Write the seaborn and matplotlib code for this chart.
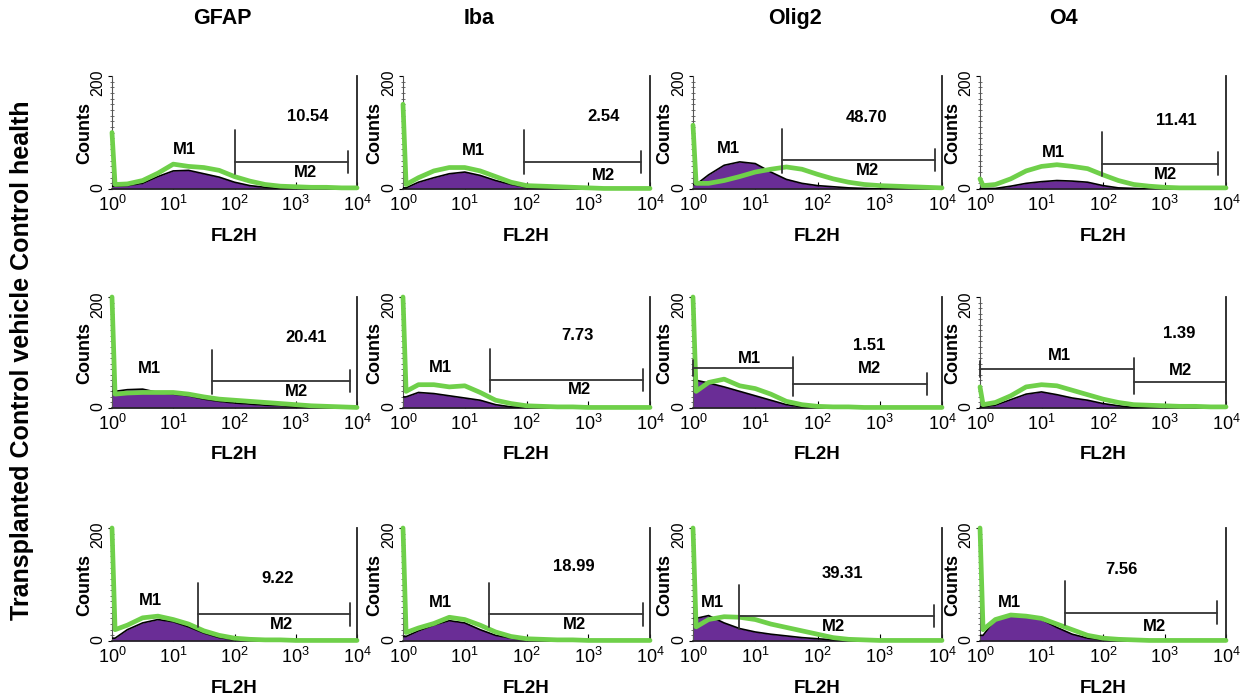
import numpy as np
import matplotlib
matplotlib.use("Agg")
import matplotlib.pyplot as plt
from matplotlib.ticker import LogLocator, NullFormatter, MultipleLocator
import seaborn as sns

# panel layout: rows are groups, columns are markers
markers = ["GFAP", "Iba", "Olig2", "O4"]
row_label = "Transplanted Control vehicle Control health"

fl2h_log = [0, 0.05, 0.25, 0.5, 0.75, 1.0, 1.25, 1.5, 1.75, 2.0,
            2.25, 2.5, 2.75, 3.0, 3.25, 3.5, 3.75, 4.0]

# purple filled histograms (control), one list per marker
iso_health = [
    [5, 5, 6, 10, 22, 32, 33, 27, 21, 12, 6, 3, 1, 1, 0, 0, 0, 0],
    [2, 2, 12, 20, 27, 30, 24, 15, 8, 3, 2, 1, 1, 0, 0, 0, 0, 0],
    [8, 8, 25, 42, 48, 45, 30, 17, 10, 6, 4, 2, 1, 0, 0, 0, 0, 0],
    [1, 1, 1, 5, 10, 13, 15, 14, 12, 6, 2, 1, 0, 0, 0, 0, 0, 0],
]
iso_vehicle = [
    [30, 30, 33, 34, 28, 25, 22, 16, 12, 9, 7, 5, 4, 2, 1, 0, 0, 0],
    [20, 20, 28, 26, 22, 18, 14, 6, 2, 1, 0, 0, 0, 0, 0, 0, 0, 0],
    [50, 50, 45, 38, 30, 22, 14, 6, 2, 1, 0, 0, 0, 0, 0, 0, 0, 0],
    [2, 2, 5, 15, 25, 29, 24, 18, 14, 8, 4, 1, 0, 0, 0, 0, 0, 0],
]
iso_transplanted = [
    [5, 5, 20, 32, 38, 34, 25, 14, 6, 2, 0, 0, 0, 0, 0, 0, 0, 0],
    [8, 8, 18, 28, 36, 32, 20, 10, 5, 2, 1, 0, 0, 0, 0, 0, 0, 0],
    [40, 40, 45, 32, 22, 16, 12, 9, 6, 4, 2, 1, 0, 0, 0, 0, 0, 0],
    [10, 10, 38, 46, 44, 38, 24, 12, 5, 2, 1, 0, 0, 0, 0, 0, 0, 0],
]

# green outlined histograms (stained)
stain_health = [
    [100, 8, 9, 15, 28, 44, 40, 38, 33, 22, 14, 8, 5, 4, 3, 3, 2, 2],
    [150, 8, 20, 32, 38, 38, 32, 22, 12, 6, 5, 4, 3, 2, 1, 1, 1, 1],
    [113, 10, 10, 15, 22, 30, 35, 39, 35, 26, 18, 12, 8, 6, 5, 4, 3, 2],
    [18, 6, 8, 18, 32, 40, 43, 40, 36, 25, 15, 8, 5, 3, 2, 2, 2, 2],
]
stain_vehicle = [
    [200, 25, 27, 28, 28, 28, 25, 20, 16, 14, 12, 10, 8, 6, 4, 3, 2, 1],
    [200, 30, 42, 42, 38, 40, 28, 14, 8, 4, 3, 2, 2, 1, 1, 1, 1, 1],
    [200, 30, 46, 52, 40, 35, 25, 12, 6, 3, 2, 2, 1, 1, 1, 1, 1, 1],
    [38, 6, 10, 22, 38, 42, 40, 32, 24, 16, 10, 6, 5, 4, 3, 3, 2, 2],
]
stain_transplanted = [
    [200, 20, 28, 41, 44, 38, 30, 18, 10, 5, 3, 2, 2, 1, 1, 1, 1, 1],
    [200, 15, 23, 31, 42, 38, 28, 16, 8, 4, 3, 2, 2, 1, 1, 1, 1, 1],
    [200, 25, 38, 43, 42, 38, 30, 24, 18, 12, 6, 3, 2, 1, 1, 1, 1, 1],
    [200, 20, 38, 46, 44, 40, 30, 20, 10, 5, 3, 2, 1, 1, 1, 1, 1, 1],
]

# M2 percentages
pct_health = ["10.54", "2.54", "48.70", "11.41"]
pct_vehicle = ["20.41", "7.73", "1.51", "1.39"]
pct_transplanted = ["9.22", "18.99", "39.31", "7.56"]

# M2 gate: start, end (log10 FL2H), bar height (counts)
m2_health = [(2.0, 3.85, 48), (1.96, 3.86, 48), (1.43, 3.88, 51), (1.99, 3.87, 45)]
m2_vehicle = [(1.63, 3.88, 48), (1.41, 3.88, 51), (1.61, 3.76, 43), (2.5, 4.0, 47)]
m2_transplanted = [(1.4, 3.89, 47), (1.4, 3.88, 47), (0.74, 3.87, 44), (1.39, 3.86, 50)]
# M1 bar height where the M1 gate is drawn (None = label only)
m1_bar_vehicle = [None, None, 72, 70]

# label positions (log10 FL2H, counts)
pct_pos = [[(3.19, 129), (3.24, 128), (2.78, 127), (3.2, 122)],
           [(3.17, 127), (2.83, 130), (2.83, 112), (3.24, 135)],
           [(2.71, 111), (2.77, 131), (2.4, 120), (2.3, 126)]]
m1_pos = [[(1.19, 70), (1.14, 69), (0.57, 72), (1.19, 65)],
          [(0.61, 72), (0.6, 73), (0.91, 90), (1.29, 94)],
          [(0.63, 72), (0.61, 69), (0.31, 68), (0.48, 68)]]
m2_pos = [[(3.16, 29), (3.24, 24), (2.81, 32), (3.01, 26)],
          [(3.01, 30), (2.85, 33), (2.83, 71), (3.26, 68)],
          [(2.77, 29), (2.77, 29), (2.25, 26), (2.83, 26)]]

iso_rows = [iso_health, iso_vehicle, iso_transplanted]
stain_rows = [stain_health, stain_vehicle, stain_transplanted]
pct_rows = [pct_health, pct_vehicle, pct_transplanted]
m2_rows = [m2_health, m2_vehicle, m2_transplanted]
m1_bar_rows = [[None] * 4, m1_bar_vehicle, [None] * 4]

sns.set_style("ticks")
plt.rcParams["font.family"] = ["Liberation Sans", "DejaVu Sans"]
plt.rcParams["mathtext.default"] = "regular"
plt.rcParams["text.color"] = "black"
plt.rcParams["axes.labelcolor"] = "black"
plt.rcParams["xtick.color"] = "black"
plt.rcParams["ytick.color"] = "black"

purple = "#6a2d96"
green = "#6fd04a"
gate_col = "#333333"

W, H = 1244, 699
fig = plt.figure(figsize=(W / 100, H / 100), dpi=100)

col_left = [112, 403, 693, 980]
col_right = [357, 650, 942, 1226]
row_zero = [189, 408, 641]
row_top = [76, 297, 528]
title_x = [0.45, 0.31, 0.41, 0.34]

x = 10 ** np.array(fl2h_log)

for r in range(3):
    for c in range(4):
        l, rr = col_left[c], col_right[c]
        y0, yt = row_zero[r], row_top[r]
        ax = fig.add_axes([l / W, 1 - y0 / H, (rr - l) / W, (y0 - yt) / H])

        iso = iso_rows[r][c]
        stain = stain_rows[r][c]
        ax.fill_between(x, iso, color=purple, lw=0, zorder=2)
        sns.lineplot(x=x, y=iso, ax=ax, color="black", linewidth=1.2, zorder=3)
        sns.lineplot(x=x, y=stain, ax=ax, color=green, linewidth=3.4, zorder=4,
                     clip_on=False)

        ax.set_xscale("log")
        ax.set_xlim(1, 1e4)
        ax.set_ylim(0, 200)

        # gates
        s, e, h = m2_rows[r][c]
        m1h = m1_bar_rows[r][c]
        top = h + 56 if m1h is None else m1h + 20
        kw = dict(color=gate_col, lw=1.3, zorder=5, clip_on=False)
        ax.plot([10 ** s, 10 ** s], [h - 22, top], **kw)
        ax.plot([10 ** s, 10 ** e], [h, h], **kw)
        ax.plot([10 ** e, 10 ** e], [h - 20, h + 20], **kw)
        if m1h is not None:
            ax.plot([1, 10 ** s], [m1h, m1h], **kw)
            ax.plot([1, 1], [m1h - 15, m1h + 15], **kw)

        tk = dict(ha="center", va="center", fontsize=12, fontweight="bold", zorder=6)
        px, py = pct_pos[r][c]
        ax.text(10 ** px, py, pct_rows[r][c], **tk)
        px, py = m1_pos[r][c]
        ax.text(10 ** px, py, "M1", **tk)
        px, py = m2_pos[r][c]
        ax.text(10 ** px, py, "M2", **tk)

        # axes styling
        ax.spines["top"].set_visible(False)
        ax.spines["right"].set_linewidth(1.3)
        ax.spines["right"].set_color("#222222")
        ax.spines["bottom"].set_linewidth(1.2)
        ax.spines["bottom"].set_color("#222222")
        ax.spines["left"].set_linewidth(0.8)
        ax.spines["left"].set_color("#555555")

        ax.set_xticks([1, 10, 100, 1000, 10000])
        ax.set_xticklabels([r"$10^{0}$", r"$10^{1}$", r"$10^{2}$", r"$10^{3}$", r"$10^{4}$"])
        ax.xaxis.set_minor_locator(LogLocator(base=10, subs=np.arange(2, 10)))
        ax.xaxis.set_minor_formatter(NullFormatter())
        ax.tick_params(axis="x", which="major", direction="in", length=5,
                       labelsize=13, pad=4)
        ax.tick_params(axis="x", which="minor", direction="in", length=3)

        ax.set_yticks([0, 200])
        ax.set_yticklabels(["0", "200"])
        ax.yaxis.set_minor_locator(MultipleLocator(10))
        ax.tick_params(axis="y", which="major", direction="out", length=3,
                       labelsize=11.5, labelrotation=90, pad=2)
        ax.tick_params(axis="y", which="minor", direction="inout", length=3,
                       color="#555555", width=0.6)

        ax.set_ylabel("Counts", fontsize=13, fontweight="bold")
        ax.yaxis.set_label_coords(-0.078, 0.5)
        ax.set_xlabel("FL2H", fontsize=13.5, fontweight="bold", va="top")
        ax.xaxis.set_label_coords(0.5, -0.345)

        if r == 0:
            ax.text(title_x[c], 1.51, markers[c], transform=ax.transAxes,
                    ha="center", va="center", fontsize=15.5, fontweight="bold")

fig.text(22 / W, 1 - 360 / H, row_label, rotation=90, ha="center", va="center",
         fontsize=18, fontweight="bold")

fig.savefig("out.png", dpi=100)
